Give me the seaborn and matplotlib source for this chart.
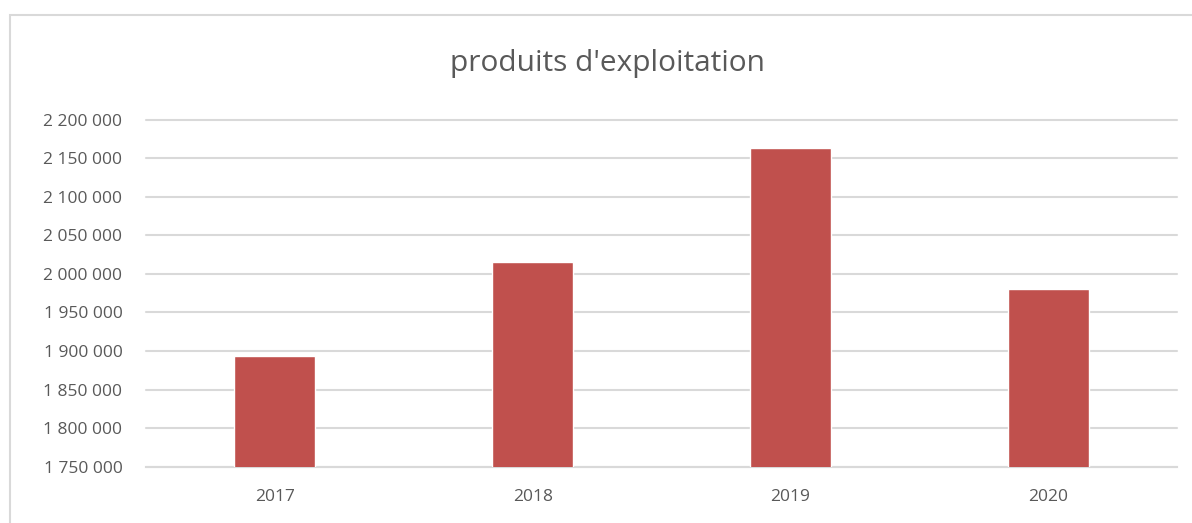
import matplotlib.pyplot as plt
import matplotlib.ticker as mticker
import pandas as pd
import seaborn as sns

years = ["2017", "2018", "2019", "2020"]
produits = [1893000, 2015000, 2164000, 1980500]
y_ticks = list(range(1750000, 2200001, 50000))

bar_color = "#c0504d"
text_color = "#595959"
grid_color = "#d9d9d9"

sns.set_theme(style="white")
plt.rcParams["font.family"] = ["Open Sans", "DejaVu Sans"]

df = pd.DataFrame({"annee": years, "valeur": produits})

fig = plt.figure(figsize=(11.92, 5.23), dpi=100)
ax = fig.add_axes([146 / 1192, 1 - 466.6 / 523, 1031 / 1192, 346.8 / 523])

sns.barplot(data=df, x="annee", y="valeur", color=bar_color, width=0.314,
            saturation=1, ax=ax, zorder=3)

ax.set_ylim(1750000, 2200000)
ax.set_xlim(-0.5, 3.5)
ax.set_yticks(y_ticks)
ax.yaxis.set_major_formatter(mticker.FuncFormatter(lambda v, p: f"{int(v):,}".replace(",", " ")))
ax.grid(axis="y", color=grid_color, linewidth=1.5, zorder=0)
for line in ax.get_ygridlines():
    line.set_clip_on(False)
ax.set_xlabel("")
ax.set_ylabel("")
for side in ["top", "right", "left"]:
    ax.spines[side].set_visible(False)
ax.spines["bottom"].set_color(grid_color)
ax.spines["bottom"].set_linewidth(1.5)
ax.tick_params(axis="y", length=0, pad=17, labelsize=12.5, labelcolor=text_color)
ax.tick_params(axis="x", length=0, pad=16, labelsize=12.5, labelcolor=text_color)

fig.text(608 / 1192, 1 - 63 / 523, "produits d'exploitation", ha="center", va="center",
         fontsize=21.5, color=text_color)

# cadre du graphique
fig.add_artist(plt.Rectangle((10 / 1192, -0.05), 1.2, 1 - 15 / 523 + 0.05,
                             transform=fig.transFigure, fill=False,
                             edgecolor="#d9d9d9", linewidth=1.5))

fig.savefig("out.png", dpi=100)
